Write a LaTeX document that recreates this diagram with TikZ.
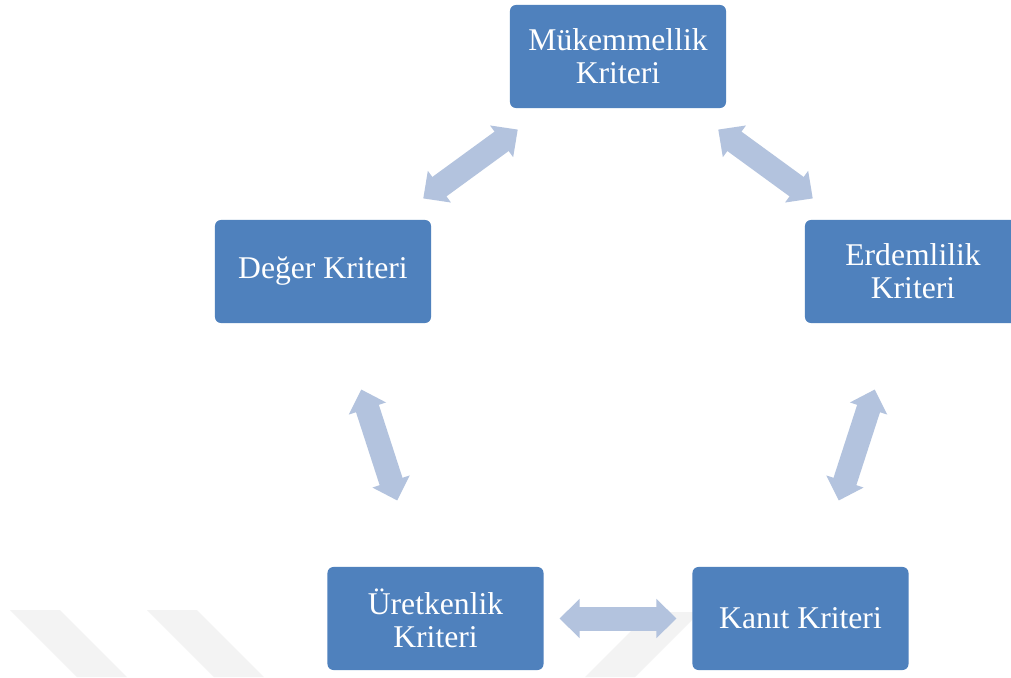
\documentclass[tikz,border=0pt]{standalone}
\usepackage{fontspec}
\setmainfont{Liberation Serif}
\usetikzlibrary{arrows.meta}
\definecolor{kutumavi}{HTML}{4F81BD}
\definecolor{okmavi}{HTML}{B3C3DE}
\definecolor{silik}{HTML}{F3F3F3}
\tikzset{
  kriter/.style={fill=kutumavi, rounded corners=0.15cm, minimum width=5.4cm,
    minimum height=2.575cm, inner sep=0pt, text=white, align=center,
    font=\fontsize{22.5}{23.5}\selectfont},
  ciftok/.style={okmavi, line width=0.6cm,
    {Triangle[length=0.5cm,width=0.95cm]}-{Triangle[length=0.5cm,width=0.95cm]},
    shorten <=3.1cm, shorten >=3.1cm}
}

\begin{document}
\begin{tikzpicture}[x=0.025cm,y=-0.025cm]
        % Page frame
        \clip (0,0) rectangle (1011,677);
        \fill[white] (0,0) rectangle (1011,677);

        % Faint stripes at the bottom
        \fill[silik] (10,610) -- (60,610) -- (127,677) -- (77,677) -- cycle;
        \fill[silik] (147,610) -- (197,610) -- (264,677) -- (214,677) -- cycle;
        \fill[silik] (585,677) -- (635,677) -- (700,612) -- (650,612) -- cycle;

        % Criteria boxes
        \node[kriter] (mukem) at (618,56.5) {Mükemmellik\\Kriteri};
        \node[kriter] (deger) at (323,271.5) {Değer Kriteri};
        \node[kriter] (erdem) at (913,271.5) {Erdemlilik\\Kriteri};
        \node[kriter] (uret) at (435.5,618.5) {Üretkenlik\\Kriteri};
        \node[kriter] (kanit) at (800.5,618.5) {Kanıt Kriteri};

        % Double arrows between the boxes
        \draw[ciftok] (deger.center) -- (mukem.center);
        \draw[ciftok] (mukem.center) -- (erdem.center);
        \draw[ciftok] (deger.center) -- (uret.center);
        \draw[ciftok] (erdem.center) -- (kanit.center);
        \draw[ciftok] (uret.center) -- (kanit.center);
\end{tikzpicture}
\end{document}
